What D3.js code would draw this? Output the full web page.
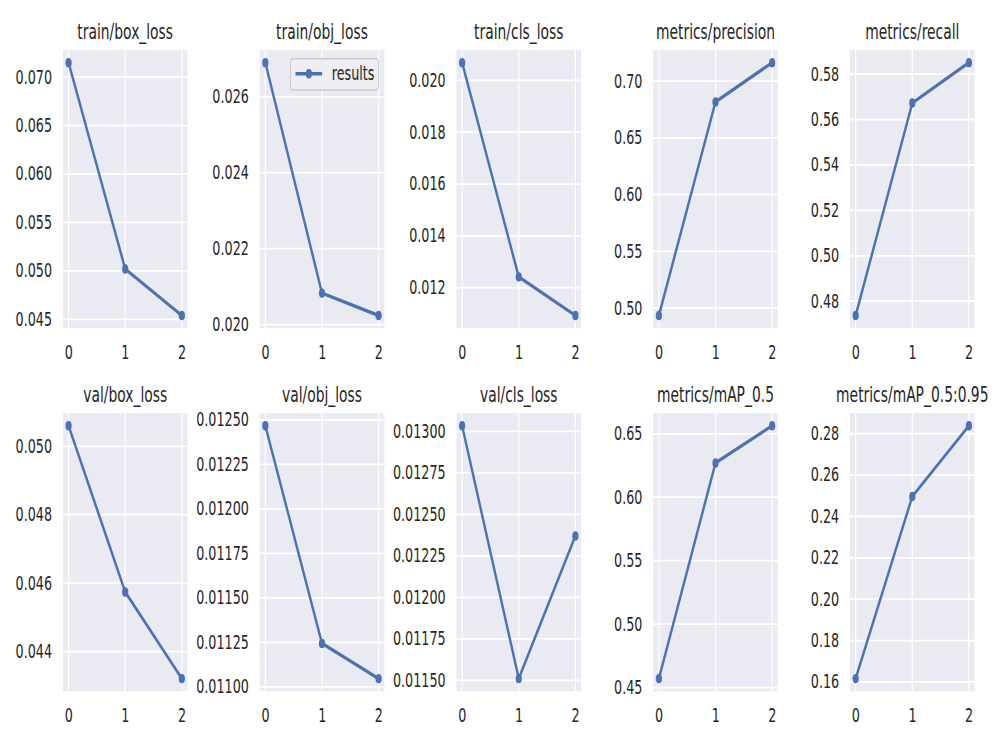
<!DOCTYPE html>
<html>
<head>
<meta charset="utf-8">
<script src="https://cdn.jsdelivr.net/npm/d3@7"></script>
<style>
  body { margin: 0; background: #fff; }
  svg text { font-family: "DejaVu Sans", sans-serif; fill: #262626; }
</style>
</head>
<body>
<div id="chart"></div>
<script>
// epochs on the x axis
const epochs = [0, 1, 2];
const xTicks = [0, 1, 2];

// panel titles, row by row
const titles = [
  "train/box_loss", "train/obj_loss", "train/cls_loss", "metrics/precision", "metrics/recall",
  "val/box_loss", "val/obj_loss", "val/cls_loss", "metrics/mAP_0.5", "metrics/mAP_0.5:0.95"
];

// values
const trainBoxLoss = [0.0715, 0.0502, 0.0454];
const trainObjLoss = [0.0269, 0.02083, 0.02024];
const trainClsLoss = [0.02068, 0.01242, 0.01093];
const precision    = [0.4935, 0.6818, 0.7164];
const recall       = [0.4737, 0.5673, 0.5851];
const valBoxLoss   = [0.0506, 0.04574, 0.04321];
const valObjLoss   = [0.012467, 0.011244, 0.011046];
const valClsLoss   = [0.013034, 0.01151, 0.01237];
const mAP50        = [0.4571, 0.627, 0.6563];
const mAP5095      = [0.1616, 0.2496, 0.2838];

// y tick labels per panel
const ticksTrainBox = ["0.045", "0.050", "0.055", "0.060", "0.065", "0.070"];
const ticksTrainObj = ["0.020", "0.022", "0.024", "0.026"];
const ticksTrainCls = ["0.012", "0.014", "0.016", "0.018", "0.020"];
const ticksPrecision = ["0.50", "0.55", "0.60", "0.65", "0.70"];
const ticksRecall = ["0.48", "0.50", "0.52", "0.54", "0.56", "0.58"];
const ticksValBox = ["0.044", "0.046", "0.048", "0.050"];
const ticksValObj = ["0.01100", "0.01125", "0.01150", "0.01175", "0.01200", "0.01225", "0.01250"];
const ticksValCls = ["0.01150", "0.01175", "0.01200", "0.01225", "0.01250", "0.01275", "0.01300"];
const ticksMAP50 = ["0.45", "0.50", "0.55", "0.60", "0.65"];
const ticksMAP5095 = ["0.16", "0.18", "0.20", "0.22", "0.24", "0.26", "0.28"];

const allValues = [trainBoxLoss, trainObjLoss, trainClsLoss, precision, recall,
                   valBoxLoss, valObjLoss, valClsLoss, mAP50, mAP5095];
const allTicks = [ticksTrainBox, ticksTrainObj, ticksTrainCls, ticksPrecision, ticksRecall,
                  ticksValBox, ticksValObj, ticksValCls, ticksMAP50, ticksMAP5095];

// the picture was drawn at 2400x1200 then squeezed into 1000x750,
// so draw in the big space and scale the whole group
const W = 1000, H = 750;
const OW = 2400, OH = 1200;
const blue = "#4C72B0";

const svg = d3.select("#chart").append("svg")
  .attr("width", W)
  .attr("height", H);

svg.append("rect").attr("width", W).attr("height", H).attr("fill", "#fff");

const root = svg.append("g")
  .attr("transform", `scale(${W / OW}, ${H / OH})`);

const colLeft = 151, colStep = 472.25, panelW = 299;
const rowTop = [80, 661], panelH = 445;

for (let i = 0; i < titles.length; i++) {
  const col = i % 5, row = Math.floor(i / 5);
  const x0 = colLeft + col * colStep;
  const y0 = rowTop[row];
  const vals = allValues[i];

  const g = root.append("g").attr("transform", `translate(${x0},${y0})`);

  const x = d3.scaleLinear().domain([-0.1, 2.1]).range([0, panelW]);
  const ext = d3.extent(vals);
  const pad = (ext[1] - ext[0]) * 0.05;
  const y = d3.scaleLinear().domain([ext[0] - pad, ext[1] + pad]).range([panelH, 0]);

  g.append("rect")
    .attr("width", panelW)
    .attr("height", panelH)
    .attr("fill", "#EAEAF2");

  // grid
  g.selectAll(".hgrid").data(allTicks[i]).enter().append("line")
    .attr("x1", 0).attr("x2", panelW)
    .attr("y1", d => y(+d)).attr("y2", d => y(+d))
    .attr("stroke", "#fff").attr("stroke-width", 2.8);
  g.selectAll(".vgrid").data(xTicks).enter().append("line")
    .attr("y1", 0).attr("y2", panelH)
    .attr("x1", d => x(d)).attr("x2", d => x(d))
    .attr("stroke", "#fff").attr("stroke-width", 2.8);

  // axes, no domain line and no tick marks
  const yAxis = g.append("g")
    .call(d3.axisLeft(y).tickValues(allTicks[i].map(Number)).tickSize(0).tickPadding(26)
      .tickFormat((d, k) => allTicks[i][k]));
  const xAxis = g.append("g")
    .attr("transform", `translate(0,${panelH})`)
    .call(d3.axisBottom(x).tickValues(xTicks).tickSize(0).tickPadding(28).tickFormat(d3.format("d")));
  [yAxis, xAxis].forEach(a => {
    a.select(".domain").remove();
    a.selectAll("text")
      .attr("font-size", 30.6)
      .attr("font-family", "DejaVu Sans")
      .attr("fill", "#333333");
  });

  g.append("text")
    .attr("x", panelW / 2)
    .attr("y", -18)
    .attr("text-anchor", "middle")
    .attr("font-size", 33.3)
    .attr("fill", "#333333")
    .text(titles[i]);

  const line = d3.line().x((d, k) => x(epochs[k])).y(d => y(d));
  g.append("path")
    .datum(vals)
    .attr("d", line)
    .attr("fill", "none")
    .attr("stroke", blue)
    .attr("stroke-width", 5.6)
    .attr("stroke-linejoin", "round");
  g.selectAll(".pt").data(vals).enter().append("circle")
    .attr("cx", (d, k) => x(epochs[k]))
    .attr("cy", d => y(d))
    .attr("r", 7.5)
    .attr("fill", blue);

  // legend only on the second panel
  if (i === 1) {
    const lg = g.append("g").attr("transform", `translate(${panelW - 225},14)`);
    lg.append("rect")
      .attr("width", 211).attr("height", 50)
      .attr("rx", 6)
      .attr("fill", "#EEEEF4")
      .attr("stroke", "#CCCCCC")
      .attr("stroke-width", 2.5);
    lg.append("line")
      .attr("x1", 12).attr("x2", 76)
      .attr("y1", 24).attr("y2", 24)
      .attr("stroke", blue).attr("stroke-width", 5.6);
    lg.append("circle").attr("cx", 44).attr("cy", 24).attr("r", 7.5).attr("fill", blue);
    lg.append("text")
      .attr("x", 99).attr("y", 24).attr("dy", "0.35em")
      .attr("font-size", 30.6)
      .attr("fill", "#333333")
      .text("results");
  }
}
</script>
</body>
</html>
